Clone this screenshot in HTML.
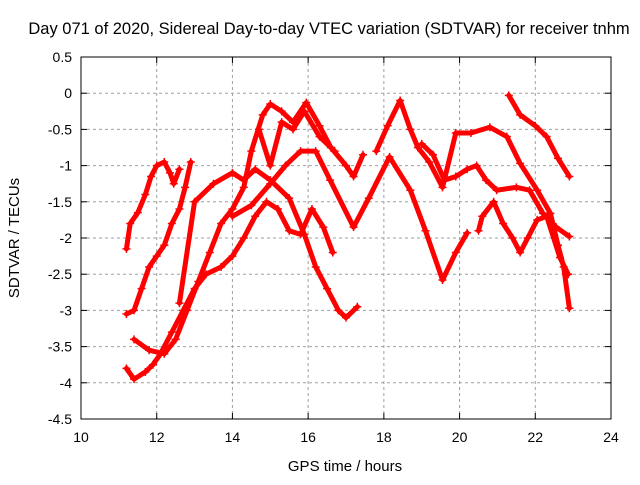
<!DOCTYPE html>
<html><head><meta charset="utf-8"><style>
body{margin:0;background:#fff;font-family:"Liberation Sans",sans-serif}
svg text{font-family:"Liberation Sans",sans-serif;fill:#000}
</style></head><body>
<svg width="640" height="480" xmlns="http://www.w3.org/2000/svg">
<rect width="640" height="480" fill="#fff"/>
<text x="329" y="34" font-size="16.5" text-anchor="middle">Day 071 of 2020, Sidereal Day-to-day VTEC variation (SDTVAR) for receiver tnhm</text>
<g id="grid"></g><g id="marks"></g><g id="axes"></g>
<text x="345" y="471" font-size="15" text-anchor="middle">GPS time / hours</text>
<text transform="translate(19,238) rotate(-90)" font-size="15" text-anchor="middle">SDTVAR / TECUs</text>
</svg>
<script>
const xTicks=[10,12,14,16,18,20,22,24];
const yTicks=[0.5,0,-0.5,-1,-1.5,-2,-2.5,-3,-3.5,-4,-4.5];
const yTickLabels=["0.5","0","-0.5","-1","-1.5","-2","-2.5","-3","-3.5","-4","-4.5"];
const arc1=[[11.2,-2.15],[11.3,-1.8],[11.5,-1.65],[11.7,-1.4],[11.85,-1.15],[12.0,-1.0],[12.2,-0.95],[12.35,-1.1],[12.45,-1.25],[12.6,-1.05]];
const arc2=[[11.2,-3.05],[11.4,-3.0],[11.6,-2.7],[11.8,-2.4],[12.0,-2.25],[12.2,-2.1],[12.4,-1.8],[12.6,-1.6],[12.75,-1.3],[12.9,-0.95]];
const arc3=[[11.2,-3.8],[11.4,-3.95],[11.7,-3.85],[11.9,-3.75],[12.1,-3.6],[12.4,-3.3],[12.7,-3.0],[13.0,-2.7],[13.3,-2.5],[13.7,-2.4],[14.0,-2.25],[14.3,-2.0],[14.6,-1.7],[14.9,-1.5],[15.2,-1.6],[15.5,-1.9],[15.8,-1.95],[16.1,-1.6],[16.4,-1.85],[16.65,-2.2]];
const arc4=[[11.4,-3.4],[11.8,-3.55],[12.2,-3.6],[12.5,-3.4],[12.8,-3.0],[13.1,-2.6],[13.4,-2.2],[13.7,-1.8],[14.0,-1.6],[14.3,-1.3],[14.5,-0.8],[14.8,-0.3],[15.0,-0.15],[15.3,-0.25],[15.6,-0.4],[15.95,-0.13],[16.3,-0.45],[16.6,-0.75],[17.0,-1.0],[17.2,-1.15],[17.45,-0.85]];
const arc5=[[17.8,-0.8],[18.1,-0.45],[18.43,-0.1],[18.7,-0.5],[18.9,-0.75],[19.2,-0.95],[19.55,-1.3],[19.9,-0.55],[20.3,-0.55],[20.8,-0.47],[21.25,-0.6],[21.6,-0.97],[22.05,-1.34],[22.4,-1.66],[22.6,-2.1],[22.75,-2.4],[22.9,-2.97]];
const arc6=[[12.6,-2.9],[13.0,-1.5],[13.5,-1.25],[14.0,-1.1],[14.3,-1.2],[14.6,-1.05],[15.0,-1.2],[15.5,-1.45],[15.9,-1.95],[16.2,-2.4],[16.5,-2.7],[16.8,-3.0],[17.0,-3.1],[17.3,-2.95]];
const arc7=[[14.0,-1.7],[14.5,-1.55],[15.0,-1.25],[15.4,-1.0],[15.8,-0.8],[16.2,-0.8],[16.58,-1.2],[17.2,-1.85],[17.6,-1.45],[18.15,-0.88],[18.7,-1.34],[19.1,-1.9],[19.55,-2.58],[19.9,-2.2],[20.2,-1.93]];
const arc8=[[14.7,-0.5],[15.0,-1.0],[15.3,-0.4],[15.6,-0.5],[15.9,-0.25],[16.3,-0.6],[16.7,-0.8]];
const arc9=[[19.0,-0.7],[19.3,-0.85],[19.6,-1.2],[19.9,-1.15],[20.2,-1.05],[20.45,-1.0],[20.7,-1.2],[20.98,-1.34],[21.5,-1.3],[21.85,-1.34],[22.2,-1.66],[22.55,-1.85],[22.9,-1.98]];
const arc10=[[20.5,-1.9],[20.6,-1.7],[20.9,-1.5],[21.15,-1.8],[21.4,-2.0],[21.6,-2.2],[21.8,-2.0],[22.05,-1.75],[22.3,-1.7],[22.65,-2.27],[22.87,-2.5]];
const arc11=[[21.3,-0.03],[21.6,-0.3],[22.0,-0.45],[22.3,-0.6],[22.6,-0.9],[22.9,-1.15]];
const arcs=[arc1,arc2,arc3,arc4,arc5,arc6,arc7,arc8,arc9,arc10,arc11];

const NS="http://www.w3.org/2000/svg";
const X0=81,X1=611,Y0=57,Y1=419;
function sx(h){return X0+(h-10)/14*(X1-X0);}
function sy(v){return Y0+(0.5-v)/5*(Y1-Y0);}
function mk(tag,attrs,parent){const e=document.createElementNS(NS,tag);for(const k in attrs)e.setAttribute(k,attrs[k]);parent.appendChild(e);return e;}
const grid=document.getElementById('grid'),axes=document.getElementById('axes'),marks=document.getElementById('marks');
xTicks.forEach(t=>{
  const x=sx(t);
  if(t>10&&t<24){const g=mk('line',{x1:x,y1:Y0,x2:x,y2:Y1,stroke:'#a0a0a0','stroke-dasharray':'3,3'},grid);
  
  }
  mk('line',{x1:x,y1:Y1,x2:x,y2:Y1-6,stroke:'#000'},axes);
  mk('line',{x1:x,y1:Y0,x2:x,y2:Y0+6,stroke:'#000'},axes);
  const l=mk('text',{x:x,y:Y1+23,'font-size':14,'text-anchor':'middle'},axes);l.textContent=t;
  
  
});
yTicks.forEach((t,i)=>{
  const y=sy(t);
  if(i>0&&i<yTicks.length-1){const g=mk('line',{x1:X0,y1:y,x2:X1,y2:y,stroke:'#a0a0a0','stroke-dasharray':'3,3'},grid);
  
  }
  mk('line',{x1:X0,y1:y,x2:X0+6,y2:y,stroke:'#000'},axes);
  mk('line',{x1:X1,y1:y,x2:X1-6,y2:y,stroke:'#000'},axes);
  const l=mk('text',{x:X0-9,y:y+5,'font-size':14,'text-anchor':'end'},axes);l.textContent=yTickLabels[i];
  
  
});
const fr=mk('rect',{x:X0,y:Y0,width:X1-X0,height:Y1-Y0,fill:'none',stroke:'#000'},axes);


arcs.forEach((a,i)=>{
  const g=mk('g',{},marks);
  
  
  mk('polyline',{points:a.map(p=>sx(p[0])+','+sy(p[1])).join(' '),fill:'none',stroke:'#f00','stroke-width':5,'stroke-linejoin':'round','stroke-linecap':'round'},g);
  a.forEach(p=>{const x=sx(p[0]),y=sy(p[1]);
    mk('path',{d:`M${x-4},${y}h8M${x},${y-4}v8`,stroke:'#f00','stroke-width':1.5},g);});
});
</script>
</body></html>
